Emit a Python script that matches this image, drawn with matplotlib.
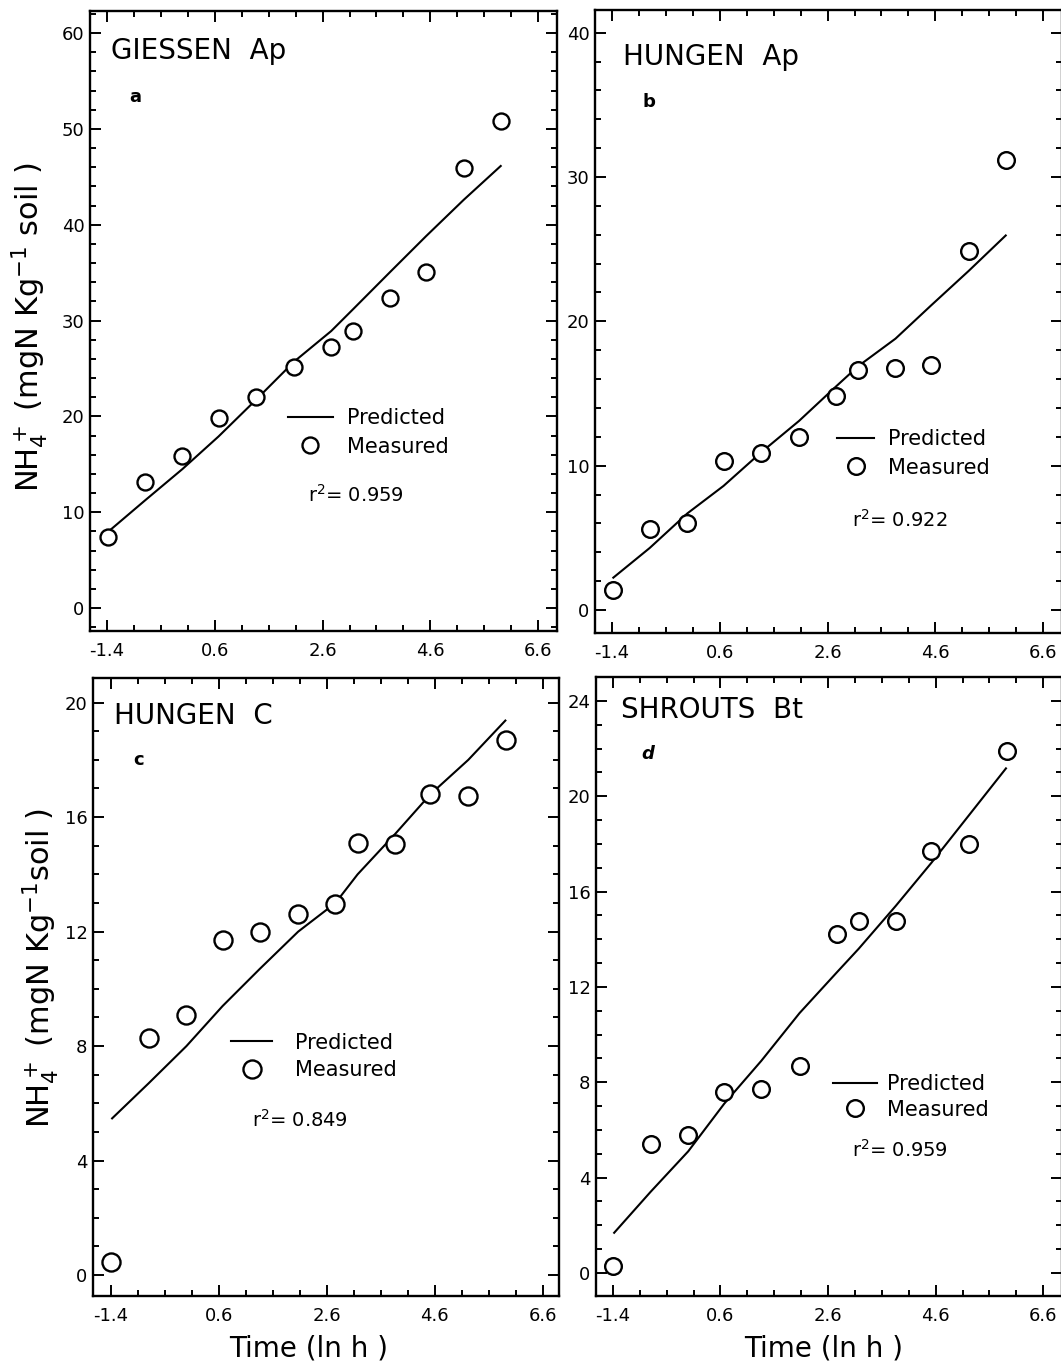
import matplotlib
matplotlib.use("Agg")
import matplotlib.pyplot as plt
from matplotlib.lines import Line2D
from matplotlib.ticker import MultipleLocator, FixedLocator, FixedFormatter

plt.rcParams['font.family'] = ['DejaVu Sans']

# ---------------- data ----------------
time_ln = [-1.39, -0.70, 0.0, 0.67, 1.36, 2.07, 2.76, 3.17, 3.86, 4.52, 5.22, 5.92]

giessen_meas = [7.4, 13.1, 15.9, 19.8, 22.0, 25.1, 27.2, 28.9, 32.3, 35.1, 45.9, 50.8]
giessen_pred = [7.9, 11.2, 14.5, 17.9, 21.7, 25.7, 28.9, 31.2, 35.1, 38.8, 42.6, 46.2]

hungen_ap_meas = [1.4, 5.6, 6.0, 10.3, 10.9, 12.0, 14.8, 16.6, 16.8, 17.0, 24.9, 31.2]
hungen_ap_pred = [2.2, 4.3, 6.7, 8.6, 10.9, 13.1, 15.5, 16.9, 18.8, 21.1, 23.5, 26.0]

hungen_c_meas = [0.45, 8.3, 9.1, 11.7, 12.0, 12.6, 12.96, 15.1, 15.05, 16.8, 16.75, 18.7]
hungen_c_pred = [5.45, 6.7, 8.0, 9.4, 10.7, 12.0, 13.0, 14.0, 15.4, 16.8, 18.0, 19.4]

shrouts_meas = [0.3, 5.4, 5.8, 7.6, 7.7, 8.7, 14.2, 14.75, 14.75, 17.7, 18.0, 21.9]
shrouts_pred = [1.65, 3.4, 5.1, 7.1, 8.9, 10.9, 12.6, 13.6, 15.4, 17.2, 19.2, 21.2]

x_tick_vals = [-1.4, 0.6, 2.6, 4.6, 6.6]
x_tick_labels = ["-1.4", "0.6", "2.6", "4.6", "6.6"]

titles = ["GIESSEN  Ap", "HUNGEN  Ap", "HUNGEN  C", "SHROUTS  Bt"]
letters = ["a", "b", "c", "d"]
r2_values = ["0.959", "0.922", "0.849", "0.959"]

ylabel_top = r"NH$_4^+$ (mgN Kg$^{-1}$ soil )"
ylabel_bottom = r"NH$_4^+$ (mgN Kg$^{-1}$soil )"
xlabel = "Time (ln h )"

# ---------------- layout ----------------
W, H = 1061, 1367
fig = plt.figure(figsize=(W / 100, H / 100), dpi=100)

def px_axes(left, right, top, bottom):
    return fig.add_axes([left / W, 1 - bottom / H, (right - left) / W, (bottom - top) / H])

panels = [
    dict(box=(90, 557, 11, 631), xlim=(-1.715, 6.95), ylim=(-2.4, 62.3), ymaj=10, ymin=2,
         meas=giessen_meas, pred=giessen_pred, ms=11.5,
         title=(0.044, 0.935), letter=(0.0975, 0.862), italic=False,
         leg=(0.424, 0.359, 2.15, 0.70, 0.40), r2=(0.466, 0.219),
         ylab=(ylabel_top, -0.086, 0.49), xlab=None),
    dict(box=(595, 1062, 10, 633), xlim=(-1.715, 6.95), ylim=(-1.59, 41.57), ymaj=10, ymin=2,
         meas=hungen_ap_meas, pred=hungen_ap_pred, ms=12,
         title=(0.059, 0.924), letter=(0.115, 0.852), italic=False,
         leg=(0.518, 0.327, 1.8, 0.65, 0.40), r2=(0.551, 0.182), ylab=None, xlab=None),
    dict(box=(93, 559, 678, 1296), xlim=(-1.73, 6.9), ylim=(-0.73, 20.86), ymaj=4, ymin=1,
         meas=hungen_c_meas, pred=hungen_c_pred, ms=13,
         title=(0.044, 0.939), letter=(0.0985, 0.867), italic=False,
         leg=(0.297, 0.426, 1.97, 1.1, 0.35), r2=(0.341, 0.285),
         ylab=(ylabel_bottom, -0.068, 0.53), xlab=(0.463, -0.062)),
    dict(box=(596, 1062, 677, 1296), xlim=(-1.715, 6.95), ylim=(-0.97, 25.0), ymaj=4, ymin=1,
         meas=shrouts_meas, pred=shrouts_pred, ms=12,
         title=(0.054, 0.946), letter=(0.111, 0.876), italic=True,
         leg=(0.5095, 0.358, 2.07, 0.52, 0.25), r2=(0.549, 0.236), ylab=None, xlab=(0.489, -0.062)),
]

for i, p in enumerate(panels):
    ax = px_axes(*p["box"])
    ax.set_xlim(*p["xlim"])
    ax.set_ylim(*p["ylim"])

    ax.plot(time_ln, p["pred"], color="black", lw=1.5, solid_capstyle="butt")
    ax.plot(time_ln, p["meas"], linestyle="none", marker="o", ms=p["ms"],
            mfc="white", mec="black", mew=1.7)

    ax.xaxis.set_major_locator(FixedLocator(x_tick_vals))
    ax.xaxis.set_major_formatter(FixedFormatter(x_tick_labels))
    ax.xaxis.set_minor_locator(MultipleLocator(0.5, offset=0.1))
    ax.yaxis.set_major_locator(MultipleLocator(p["ymaj"]))
    ax.yaxis.set_minor_locator(MultipleLocator(p["ymin"]))

    ax.tick_params(which="both", direction="in", top=True, right=True, width=1.4, colors="black")
    ax.tick_params(which="major", length=8)
    ax.tick_params(which="minor", length=4)
    ax.tick_params(axis="x", which="major", pad=8, labelsize=13)
    ax.tick_params(axis="y", which="major", pad=4, labelsize=13)
    for s in ax.spines.values():
        s.set_linewidth(1.7)

    ax.text(p["title"][0], p["title"][1], titles[i], transform=ax.transAxes,
            fontsize=20, ha="left", va="center")
    ax.text(p["letter"][0], p["letter"][1], letters[i], transform=ax.transAxes,
            fontsize=13, fontweight="bold", style="italic" if p["italic"] else "normal",
            ha="center", va="center")

    lx, ly, hl, htp, ls = p["leg"]
    handles = [Line2D([], [], color="black", lw=1.5),
               Line2D([], [], linestyle="none", marker="o", ms=p["ms"], mfc="white", mec="black", mew=1.7)]
    ax.legend(handles, ["Predicted", "Measured"], loc="upper left", bbox_to_anchor=(lx, ly),
              frameon=False, fontsize=15, handlelength=hl, handletextpad=htp,
              labelspacing=ls, borderpad=0, borderaxespad=0)
    ax.text(p["r2"][0], p["r2"][1], r"r$^2$= " + r2_values[i], transform=ax.transAxes,
            fontsize=14, ha="left", va="center")

    if p["ylab"] is not None:
        ax.set_ylabel(p["ylab"][0], fontsize=22)
        ax.yaxis.set_label_coords(p["ylab"][1], p["ylab"][2])
    if p["xlab"] is not None:
        ax.set_xlabel(xlabel, fontsize=20)
        ax.xaxis.set_label_coords(*p["xlab"])

fig.savefig("out.png", dpi=100)
